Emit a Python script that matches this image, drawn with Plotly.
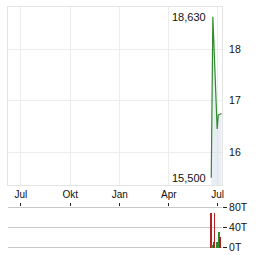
import plotly.graph_objects as go

price_dates = ["2024-06-19", "2024-06-22", "2024-06-30", "2024-07-02", "2024-07-08"]
price_values = [15.5, 18.63, 16.45, 16.72, 16.75]

vol_dates = ["2024-06-19", "2024-06-21", "2024-06-23", "2024-06-25", "2024-06-30", "2024-07-03", "2024-07-05"]
vol_values = [71, 5, 12, 71, 11, 32, 22]
vol_colors = ["#b22222", "#2e8b2e", "#b22222", "#b22222", "#2e8b2e", "#2e8b2e", "#b22222"]

x_tick_vals = ["2023-07-01", "2023-10-01", "2024-01-01", "2024-04-01", "2024-07-01"]
x_tick_text = ["Jul", "Okt", "Jan", "Apr", "Jul"]
y_tick_vals = [16, 17, 18]
vol_tick_vals = [0, 40, 80]
vol_tick_text = ["0T", "40T", "80T"]

x_range = ["2023-06-07", "2024-07-09"]

FONT = "Liberation Sans, Arial, sans-serif"

fig = go.Figure()

fig.add_trace(go.Scatter(
    x=price_dates, y=price_values, mode="lines",
    line=dict(color="#2e8b2e", width=1.2),
    fill="tozeroy", fillcolor="rgba(205,218,230,0.45)",
    xaxis="x", yaxis="y", showlegend=False, hoverinfo="skip"))

fig.add_trace(go.Bar(
    x=vol_dates, y=vol_values, marker=dict(color=vol_colors, line=dict(width=0)),
    width=[86400000 * 1.3] * len(vol_values),
    xaxis="x2", yaxis="y2", showlegend=False, hoverinfo="skip"))

fig.add_annotation(x=price_dates[1], y=price_values[1], xref="x", yref="y",
                   text="18,630", showarrow=False, xanchor="right", xshift=-5,
                   font=dict(family=FONT, size=11, color="#111"))
fig.add_annotation(x=price_dates[0], y=price_values[0], xref="x", yref="y",
                   text="15,500", showarrow=False, xanchor="right", xshift=-3,
                   font=dict(family=FONT, size=11, color="#111"))

fig.update_layout(
    width=264, height=255,
    margin=dict(l=8, r=42, t=7, b=7, autoexpand=False),
    paper_bgcolor="white", plot_bgcolor="white",
    font=dict(family=FONT, size=10, color="#111"),
    bargap=0,
    xaxis=dict(domain=[0, 1], range=x_range, type="date", automargin=False,
               tickvals=x_tick_vals, ticktext=x_tick_text,
               showgrid=True, gridcolor="#ececec", gridwidth=1,
               showline=True, linecolor="#e4e4e4", mirror=True,
               ticks="", tickfont=dict(size=10), anchor="y"),
    yaxis=dict(domain=[0.2614, 1], range=[15.36, 18.82], side="right", automargin=False,
               tickvals=y_tick_vals, ticktext=[str(v) for v in y_tick_vals],
               showgrid=True, gridcolor="#ececec", zeroline=False,
               showline=True, linecolor="#e4e4e4", mirror=True,
               ticks="", ticklabelstandoff=4, tickfont=dict(size=10.5), anchor="x"),
    xaxis2=dict(domain=[0, 1], range=x_range, type="date", automargin=False,
                tickvals=x_tick_vals, showticklabels=False,
                ticks="outside", ticklen=3, tickcolor="#222", side="top",
                showgrid=False, showline=False, anchor="y2"),
    yaxis2=dict(domain=[0, 0.172], range=[-1.41, 82.4], side="right", automargin=False,
                tickvals=vol_tick_vals, ticktext=vol_tick_text,
                showgrid=True, gridcolor="#c8c8c8",
                zeroline=True, zerolinecolor="#c8c8c8", zerolinewidth=1,
                ticks="outside", ticklen=4, tickcolor="#222",
                tickfont=dict(size=10.5), anchor="x2"),
)

fig.write_html("out.html")
